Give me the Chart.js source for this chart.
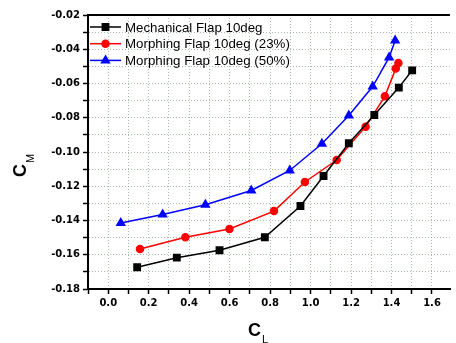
<!DOCTYPE html>
<html>
<head>
<meta charset="utf-8">
<script src="https://cdn.jsdelivr.net/npm/chart.js@4/dist/chart.umd.min.js"></script>
<style>
html,body{margin:0;padding:0;background:#fff;}
#wrap{width:456px;height:343px;position:relative;}
</style>
</head>
<body>
<div id="wrap"><canvas id="c"></canvas></div>
<script>
// ---- data ----
const seriesNames = ['Mechanical Flap 10deg', 'Morphing Flap 10deg (23%)', 'Morphing Flap 10deg (50%)'];
const mechCL = [0.143, 0.339, 0.550, 0.774, 0.950, 1.064, 1.189, 1.315, 1.436, 1.502];
const mechCM = [-0.1673, -0.1617, -0.1574, -0.1498, -0.1315, -0.1140, -0.0949, -0.0784, -0.0624, -0.0523];
const morph23CL = [0.157, 0.381, 0.599, 0.819, 0.972, 1.129, 1.272, 1.367, 1.421, 1.434];
const morph23CM = [-0.1566, -0.1498, -0.1450, -0.1345, -0.1175, -0.1047, -0.0852, -0.0675, -0.0513, -0.0480];
const morph50CL = [0.062, 0.269, 0.480, 0.707, 0.897, 1.056, 1.189, 1.307, 1.388, 1.418];
const morph50CM = [-0.1415, -0.1365, -0.1308, -0.1225, -0.1108, -0.0952, -0.0787, -0.0618, -0.0448, -0.0349];
const xTicks = [-0.1, 0.0, 0.1, 0.2, 0.3, 0.4, 0.5, 0.6, 0.7, 0.8, 0.9, 1.0, 1.1, 1.2, 1.3, 1.4, 1.5, 1.6];
const xTickLabels = ['', '0.0', '', '0.2', '', '0.4', '', '0.6', '', '0.8', '', '1.0', '', '1.2', '', '1.4', '', '1.6'];
const yTicks = [-0.18, -0.17, -0.16, -0.15, -0.14, -0.13, -0.12, -0.11, -0.10, -0.09, -0.08, -0.07, -0.06, -0.05, -0.04, -0.03, -0.02];
const yTickLabels = ['-0.18', '', '-0.16', '', '-0.14', '', '-0.12', '', '-0.10', '', '-0.08', '', '-0.06', '', '-0.04', '', '-0.02'];
const xTitle = ['C', 'L'];
const yTitle = ['C', 'M'];

const pts = (xs, ys) => xs.map((x, i) => ({x: x, y: ys[i]}));
const colors = ['#000000', '#ff0000', '#0000ff'];
const styles = ['rect', 'circle', 'triangle'];
const radii = [4.5, 3.5, 4.5];
const dataArr = [pts(mechCL, mechCM), pts(morph23CL, morph23CM), pts(morph50CL, morph50CM)];

const datasets = dataArr.map((d, i) => ({
  label: seriesNames[i],
  data: d,
  borderColor: colors[i],
  backgroundColor: colors[i],
  pointBackgroundColor: colors[i],
  pointBorderColor: colors[i],
  pointStyle: styles[i],
  pointRadius: radii[i],
  borderWidth: 1.5,
  tension: 0,
  fill: false
}));

const FONT = "'Liberation Sans', Arial, sans-serif";
const TICKFONT = "'DejaVu Sans', sans-serif";

const decor = {
  id: 'decor',
  afterDraw(chart) {
    const ctx = chart.ctx;
    const a = chart.chartArea;
    ctx.save();
    // top frame line
    ctx.strokeStyle = '#000';
    ctx.lineWidth = 2;
    ctx.beginPath();
    ctx.moveTo(a.left - 1, a.top);
    ctx.lineTo(a.right, a.top);
    ctx.stroke();
    // legend
    ctx.font = '13.3px ' + FONT;
    ctx.textBaseline = 'middle';
    ctx.textAlign = 'left';
    chart.data.datasets.forEach((ds, i) => {
      const y = a.top + 12 + i * 16.7;
      const x0 = a.left + 2, x1 = a.left + 33;
      ctx.strokeStyle = ds.borderColor;
      ctx.lineWidth = 1.5;
      ctx.beginPath();
      ctx.moveTo(x0, y); ctx.lineTo(x1, y); ctx.stroke();
      Chart.helpers.drawPoint(ctx, {pointStyle: ds.pointStyle, radius: ds.pointRadius, rotation: 0, borderWidth: 1}, (x0 + x1) / 2, y);
      ctx.fillStyle = ds.borderColor;
      ctx.fill();
      ctx.fillStyle = '#000';
      ctx.fillText(ds.label, a.left + 37, y + 1);
    });
    // x title
    ctx.fillStyle = '#000';
    ctx.textBaseline = 'alphabetic';
    ctx.font = 'bold 18px ' + FONT;
    const cx = 248;
    ctx.fillText(xTitle[0], cx, 336);
    const w = ctx.measureText(xTitle[0]).width;
    ctx.font = '11px ' + FONT;
    ctx.fillText(xTitle[1], cx + w + 1, 343);
    // y title
    ctx.translate(26, 177);
    ctx.rotate(-Math.PI / 2);
    ctx.font = 'bold 18px ' + FONT;
    ctx.fillText(yTitle[0], 0, 0);
    const w2 = ctx.measureText(yTitle[0]).width;
    ctx.font = '11px ' + FONT;
    ctx.fillText(yTitle[1], w2 + 1, 8);
    ctx.restore();
  }
};

new Chart(document.getElementById('c'), {
  type: 'line',
  data: {datasets: datasets},
  plugins: [decor],
  options: {
    responsive: true,
    maintainAspectRatio: false,
    animation: false,
    layout: {padding: {left: 0, top: 15, right: 0, bottom: 0}},
    plugins: {legend: {display: false}, tooltip: {enabled: false}},
    scales: {
      x: {
        type: 'linear',
        min: -0.1,
        max: 1.689,
        afterBuildTicks: s => { s.ticks = xTicks.map(v => ({value: v})); },
        afterFit: s => { s.height = 54; s.paddingRight = 0; s.paddingLeft = 0; },
        ticks: {
          autoSkip: false,
          maxRotation: 0,
          padding: 3,
          color: '#000',
          font: {family: TICKFONT, size: 10, weight: 'bold'},
          callback: (v, i) => xTickLabels[i]
        },
        grid: {color: 'rgba(160,180,160,0.9)', lineWidth: 1, tickColor: '#000', tickLength: 5, tickWidth: 1.5, tickBorderDash: []},
        border: {color: '#000', width: 2, dash: [1, 2]}
      },
      y: {
        type: 'linear',
        min: -0.18,
        max: -0.02,
        afterBuildTicks: s => { s.ticks = yTicks.map(v => ({value: v})); },
        afterFit: s => { s.width = 88; },
        ticks: {
          autoSkip: false,
          padding: 3,
          color: '#000',
          font: {family: TICKFONT, size: 10, weight: 'bold'},
          callback: (v, i) => yTickLabels[i]
        },
        grid: {color: 'rgba(160,180,160,0.9)', lineWidth: 1, tickColor: '#000', tickLength: 5, tickWidth: 1.5, tickBorderDash: []},
        border: {color: '#000', width: 2, dash: [1, 2]}
      }
    }
  }
});
</script>
</body>
</html>
